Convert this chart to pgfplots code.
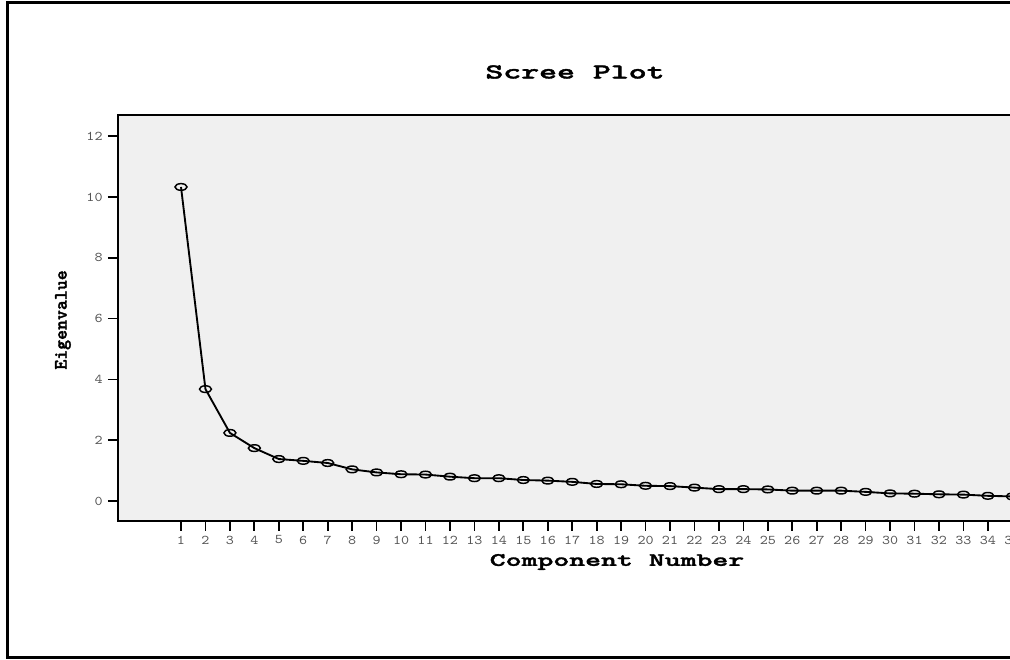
\documentclass[border=0pt]{standalone}
\usepackage{fontspec}
\usepackage{pgfplots}
\pgfplotsset{compat=1.18}
\newfontfamily\mbold{lmmonolt10-bold.otf}[FakeBold=1.6]
\definecolor{bgc}{HTML}{F0F0F0}
\definecolor{lab}{HTML}{555555}
\begin{document}
\begin{tikzpicture}
\path[use as bounding box] (0,0) rectangle (757.5pt,495pt);
\clip (0,0) rectangle (757.5pt,495pt);
\draw[line width=2.25pt] (5.25pt,1.5pt) rectangle (800pt,492.75pt);
\begin{axis}[
  at={(88.5pt,104.25pt)}, anchor=south west,
  x=18.3375pt, y=22.8pt,
  xmin=-1.577, xmax=37, ymin=-0.658, ymax=12.697,
  axis background/.style={fill=bgc},
  axis line style={line width=1.1pt},
  xtick={1,...,35}, ytick={0,2,...,12},
  tick align=outside, xtick pos=bottom, ytick pos=left,
  major tick length=7.5pt,
  every tick/.style={black, line width=1.3pt},
  /pgf/number format/assume math mode=true,
  tick label style={font=\ttfamily\fontsize{10}{10}\selectfont, text=lab, xscale=1.15},
  clip=false,
]
\addplot[black, line width=1.4pt, mark=o, mark size=2.5pt,
  mark options={line width=1.1pt, xscale=1.8, solid}] coordinates {
(1,10.33) (2,3.68) (3,2.24) (4,1.74) (5,1.38) (6,1.32) (7,1.25) (8,1.04)
(9,0.94) (10,0.88) (11,0.87) (12,0.80) (13,0.75) (14,0.75) (15,0.69)
(16,0.67) (17,0.63) (18,0.56) (19,0.55) (20,0.50) (21,0.49) (22,0.44)
(23,0.39) (24,0.39) (25,0.38) (26,0.34) (27,0.34) (28,0.34) (29,0.30)
(30,0.25) (31,0.24) (32,0.22) (33,0.21) (34,0.17) (35,0.15)
};
\end{axis}
\node[font=\mbold\fontsize{16}{16}\selectfont, xscale=1.6] at (431.25pt,441pt) {Scree Plot};
\node[font=\mbold\fontsize{14.2}{14.2}\selectfont, xscale=1.6] at (462.75pt,73.5pt) {Component Number};
\node[font=\mbold\fontsize{14.2}{14.2}\selectfont, rotate=90] at (47.25pt,255pt) {Eigenvalue};
\end{tikzpicture}
\end{document}
